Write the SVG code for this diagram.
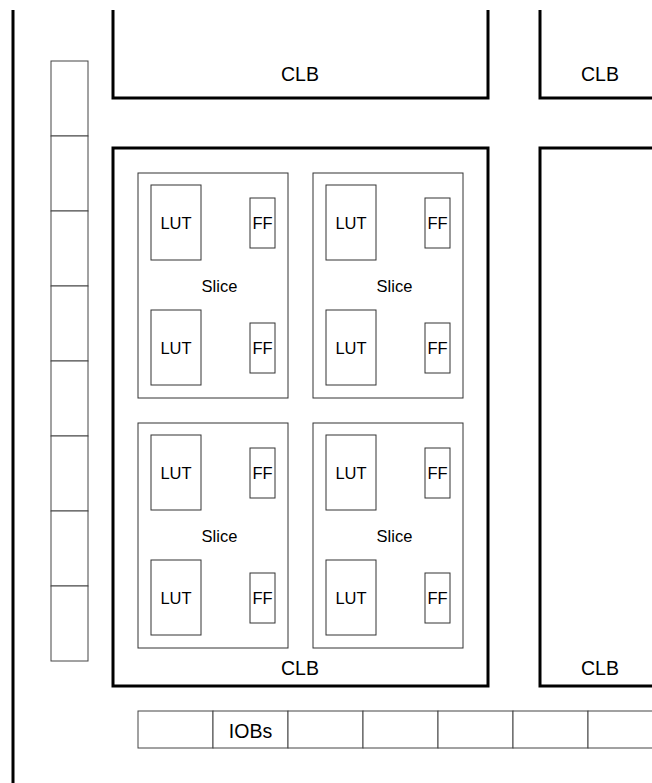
<svg xmlns="http://www.w3.org/2000/svg" width="652" height="783" viewBox="0 0 652 783">
<style>
.thick{fill:none;stroke:#000;stroke-width:3;stroke-linejoin:miter}
.thin{fill:#fff;stroke:#333;stroke-width:1}
.iob{fill:#fff;stroke:#444;stroke-width:1}
.t{font-family:"Liberation Sans",Arial,sans-serif;fill:#000;text-anchor:middle}
.s{font-size:16.5px}
.l{font-size:19.5px}
</style>
<defs>
<g id="slice">
<rect class="thin" x="0" y="0" width="150" height="225"/>
<rect class="thin" x="13" y="12" width="50" height="75"/>
<rect class="thin" x="112" y="25" width="25" height="50"/>
<rect class="thin" x="13" y="137" width="50" height="75"/>
<rect class="thin" x="112" y="150" width="25" height="50"/>
<text class="t s" x="38" y="56">LUT</text>
<text class="t s" x="124.5" y="56">FF</text>
<text class="t s" x="81.5" y="118.5">Slice</text>
<text class="t s" x="38" y="181">LUT</text>
<text class="t s" x="124.5" y="181">FF</text>
</g>
</defs>
<g id="left-rail">
<line class="thick" x1="13" y1="10" x2="13" y2="783"/>
</g>
<g id="clb-top">
<path class="thick" d="M113,10 V98 H488 V10"/>
<text class="t l" x="300" y="80.5">CLB</text>
</g>
<g id="clb-top-right">
<path class="thick" d="M540,10 V98 H655"/>
<text class="t l" x="600" y="80.5">CLB</text>
</g>
<g id="clb-main">
<rect class="thick" x="113" y="148" width="375" height="538"/>
<text class="t l" x="300" y="675">CLB</text>
</g>
<g id="slice-1"><use href="#slice" x="138" y="173"/></g>
<g id="slice-2"><use href="#slice" x="313" y="173"/></g>
<g id="slice-3"><use href="#slice" x="138" y="423"/></g>
<g id="slice-4"><use href="#slice" x="313" y="423"/></g>
<g id="clb-right">
<path class="thick" d="M655,148 H540 V686 H655"/>
<text class="t l" x="600" y="675">CLB</text>
</g>
<g id="iob-column">
<rect class="iob" x="51" y="61" width="37" height="75"/>
<rect class="iob" x="51" y="136" width="37" height="75"/>
<rect class="iob" x="51" y="211" width="37" height="75"/>
<rect class="iob" x="51" y="286" width="37" height="75"/>
<rect class="iob" x="51" y="361" width="37" height="75"/>
<rect class="iob" x="51" y="436" width="37" height="75"/>
<rect class="iob" x="51" y="511" width="37" height="75"/>
<rect class="iob" x="51" y="586" width="37" height="75"/>
</g>
<g id="iob-row">
<rect class="iob" x="138" y="711" width="75" height="37"/>
<rect class="iob" x="213" y="711" width="75" height="37"/>
<rect class="iob" x="288" y="711" width="75" height="37"/>
<rect class="iob" x="363" y="711" width="75" height="37"/>
<rect class="iob" x="438" y="711" width="75" height="37"/>
<rect class="iob" x="513" y="711" width="75" height="37"/>
<rect class="iob" x="588" y="711" width="75" height="37"/>
<text class="t l" x="250.5" y="738">IOBs</text>
</g>
<g id="connectors"/>
</svg>
